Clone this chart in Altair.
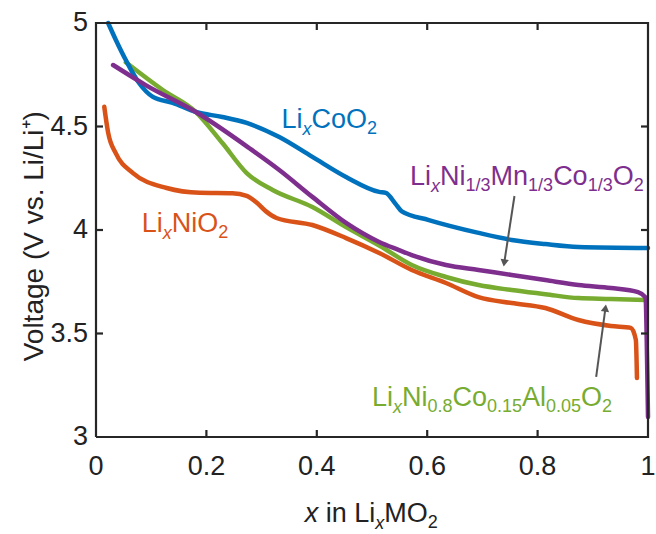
import altair as alt
import pandas as pd

# ---------------- data ----------------
co_x = [0.022, 0.036, 0.054, 0.078, 0.103, 0.139, 0.181, 0.229, 0.273, 0.332, 0.392,
        0.453, 0.513, 0.525, 0.543, 0.554, 0.603, 0.693, 0.753, 0.814, 0.874, 1.0]
co_y = [5.0, 4.918, 4.821, 4.71, 4.643, 4.614, 4.57, 4.546, 4.517, 4.449, 4.353,
        4.256, 4.184, 4.179, 4.125, 4.09, 4.048, 3.986, 3.952, 3.932, 3.918, 3.913]

ni_x = [0.015, 0.022, 0.036, 0.067, 0.128, 0.188, 0.247, 0.273, 0.292, 0.308, 0.327,
        0.392, 0.453, 0.513, 0.572, 0.634, 0.693, 0.753, 0.814, 0.874, 0.933, 0.969,
        0.978, 0.98]
ni_y = [4.595, 4.47, 4.37, 4.275, 4.203, 4.18, 4.178, 4.165, 4.13, 4.09, 4.058,
        4.024, 3.961, 3.889, 3.807, 3.744, 3.676, 3.647, 3.623, 3.565, 3.536, 3.527,
        3.469, 3.285]

nmc_x = [0.031, 0.09, 0.181, 0.278, 0.332, 0.392, 0.453, 0.513, 0.549, 0.572, 0.634,
         0.693, 0.753, 0.814, 0.874, 0.933, 0.982, 0.995, 1.0]
nmc_y = [4.797, 4.70, 4.57, 4.395, 4.29, 4.16, 4.034, 3.942, 3.903, 3.879, 3.831,
         3.807, 3.783, 3.758, 3.734, 3.72, 3.70, 3.676, 3.097]

nca_x = [0.054, 0.121, 0.181, 0.229, 0.273, 0.32, 0.392, 0.453, 0.513, 0.572, 0.634,
         0.693, 0.753, 0.814, 0.874, 0.933, 0.995]
nca_y = [4.81, 4.676, 4.57, 4.42, 4.275, 4.193, 4.111, 4.014, 3.925, 3.831, 3.773,
         3.734, 3.71, 3.69, 3.671, 3.667, 3.662]

x_ticks = [0, 0.2, 0.4, 0.6, 0.8, 1]
y_ticks = [3, 3.5, 4, 4.5, 5]
y_title = "Voltage (V vs. Li/Li⁺)"

C_BLUE, C_ORANGE, C_PURPLE, C_GREEN = "#0072BD", "#D95319", "#7E2F8E", "#77AC30"
TXT = "#222222"
FRAME = "#262626"
FONT = "Liberation Sans"

PW, PH = 552, 414

def series(name, xs, ys, color):
    return pd.DataFrame({"x": xs, "y": ys, "s": name, "c": color, "o": range(len(xs))})

xs_scale = alt.Scale(domain=[0, 1], nice=False, zero=False)
ys_scale = alt.Scale(domain=[3, 5], nice=False, zero=False)
X = lambda f: alt.X(f, scale=xs_scale, axis=None)
Y = lambda f: alt.Y(f, scale=ys_scale, axis=None)

def line(df):
    return alt.Chart(df).mark_line(strokeWidth=4.5, strokeJoin="round", strokeCap="round",
                                   interpolate="monotone").encode(
        x=X("x:Q"), y=Y("y:Q"), order="o:Q", color=alt.Color("c:N", scale=None))

# frame drawn as a closed polyline around the plot area
fx = [0.0, 1.0, 1.0, 0.0, 0.0]
fy = [3.0, 3.0, 5.0, 5.0, 3.0]
frame = alt.Chart(pd.DataFrame({"fx": fx, "fy": fy, "o": range(5)})).mark_line(
    color=FRAME, strokeWidth=2.2, strokeJoin="miter").encode(
    x=X("fx:Q"), y=Y("fy:Q"), order="o:Q")

# inward ticks as short 2-point polylines
tk_x, tk_y, tk_id, tk_o = [], [], [], []
k = 0
for v in x_ticks[1:-1]:
    for y0, y1 in [(3.0, 3.0 + 7 * 2 / PH), (5.0, 5.0 - 7 * 2 / PH)]:
        tk_x += [float(v), float(v)]; tk_y += [y0, y1]; tk_id += [k, k]; tk_o += [0, 1]; k += 1
for v in y_ticks[1:-1]:
    for x0, x1 in [(0.0, 7 / PW), (1.0, 1.0 - 7 / PW)]:
        tk_x += [x0, x1]; tk_y += [float(v), float(v)]; tk_id += [k, k]; tk_o += [0, 1]; k += 1
ticks = alt.Chart(pd.DataFrame({"tx": tk_x, "ty": tk_y, "tid": tk_id, "to": tk_o})).mark_line(
    color=FRAME, strokeWidth=2.2).encode(
    x=X("tx:Q"), y=Y("ty:Q"), detail="tid:N", order="to:Q")

# tick labels drawn as text marks through the scales
xlab_df = pd.DataFrame({"v": [float(v) for v in x_ticks], "b": 3.0,
                        "t": [f"{v:g}" for v in x_ticks]})
xlabels = alt.Chart(xlab_df).mark_text(
    align="center", baseline="top", dy=17, fontSize=27, font=FONT, color=TXT).encode(
    x=X("v:Q"), y=Y("b:Q"), text="t:N")
ylab_df = pd.DataFrame({"v": [float(v) for v in y_ticks], "b": 0.0,
                        "t": [f"{v:g}" for v in y_ticks]})
ylabels = alt.Chart(ylab_df).mark_text(
    align="right", baseline="middle", dx=-8, fontSize=27, font=FONT, color=TXT).encode(
    x=X("b:Q"), y=Y("v:Q"), text="t:N")
ytitle = alt.Chart(pd.DataFrame({"tx": [-0.096], "ty": [3.97], "t": [y_title]})).mark_text(
    align="center", baseline="alphabetic", angle=270, fontSize=28, font=FONT, color=TXT).encode(
    x=X("tx:Q"), y=Y("ty:Q"), text="t:N")

# ---------------- rich-text labels (subscripts) ----------------
W = {"L": 556, "i": 222, "x": 500, "C": 722, "o": 556, "O": 778, "2": 556, "N": 722,
     "M": 833, "n": 556, "1": 556, "/": 278, "3": 556, "0": 556, ".": 278, "8": 556,
     "5": 556, "A": 667, "l": 222, " ": 278}
SIZES = {"n": 27, "i": 27, "s": 18, "is": 18, "gap": 27}

def rich(segs, x0, y0, color, rows):
    off = 0.0
    for text, kind in segs:
        if kind != "gap":
            rows.append({"t": text, "k": kind, "x": x0 + off / PW, "y": y0, "c": color})
        off += sum(W[ch] for ch in text) * SIZES[kind] / 1000.0

label_rows = []
rich([("Li", "n"), ("x", "is"), ("CoO", "n"), ("2", "s")], 0.336, 4.493, C_BLUE, label_rows)
rich([("Li", "n"), ("x", "is"), ("NiO", "n"), ("2", "s")], 0.083, 3.99, C_ORANGE, label_rows)
rich([("Li", "n"), ("x", "is"), ("Ni", "n"), ("1/3", "s"), ("Mn", "n"), ("1/3", "s"),
      ("Co", "n"), ("1/3", "s"), ("O", "n"), ("2", "s")], 0.569, 4.217, C_PURPLE, label_rows)
rich([("Li", "n"), ("x", "is"), ("Ni", "n"), ("0.8", "s"), ("Co", "n"), ("0.15", "s"),
      ("Al", "n"), ("0.05", "s"), ("O", "n"), ("2", "s")], 0.50, 3.150, C_GREEN, label_rows)
rich([("x", "i"), (" ", "gap"), ("in Li", "n"), ("x", "is"), ("MO", "n"), ("2", "s")],
     0.378, 2.589, TXT, label_rows)
labels_df = pd.DataFrame(label_rows)

def text_layer(kind, size, dy, style):
    return alt.Chart(labels_df[labels_df.k == kind]).mark_text(
        align="left", baseline="alphabetic", fontSize=size, dy=dy, font=FONT, fontStyle=style
    ).encode(x=X("x:Q"), y=Y("y:Q"), text="t:N", color=alt.Color("c:N", scale=None))

texts = [text_layer("n", 27, 0, "normal"), text_layer("i", 27, 0, "italic"),
         text_layer("s", 18, 6, "normal"), text_layer("is", 18, 7, "italic")]

# ---------------- arrows ----------------
arrow_df = pd.DataFrame({
    "x": [0.7581, 0.9061], "y": [4.1643, 3.2899],
    "x2": [0.7395, 0.9229], "y2": [3.8406, 3.623],
    "ang": [187.9, 7.7],
})
arrow_lines = alt.Chart(arrow_df).mark_rule(color="#555555", strokeWidth=2).encode(
    x=X("x:Q"), y=Y("y:Q"), x2="x2:Q", y2="y2:Q")
arrow_heads = alt.Chart(arrow_df).mark_point(shape="triangle-up", filled=True, size=70,
                                             color="#555555", opacity=1).encode(
    x=X("x2:Q"), y=Y("y2:Q"), angle=alt.Angle("ang:Q", scale=None))

chart = alt.layer(
    line(series("LixNiO2", ni_x, ni_y, C_ORANGE)),
    line(series("NCA", nca_x, nca_y, C_GREEN)),
    line(series("LixCoO2", co_x, co_y, C_BLUE)),
    line(series("NMC", nmc_x, nmc_y, C_PURPLE)),
    frame, ticks, xlabels, ylabels, ytitle,
    arrow_lines, arrow_heads, *texts,
).properties(
    width=PW, height=PH,
    background="white",
    autosize=alt.AutoSizeParams(type="none"),
    padding={"left": 96, "top": 23, "right": 8, "bottom": 97},
).configure_view(stroke=None)

chart.save("out.html", embed_options={"renderer": "svg", "actions": False})
